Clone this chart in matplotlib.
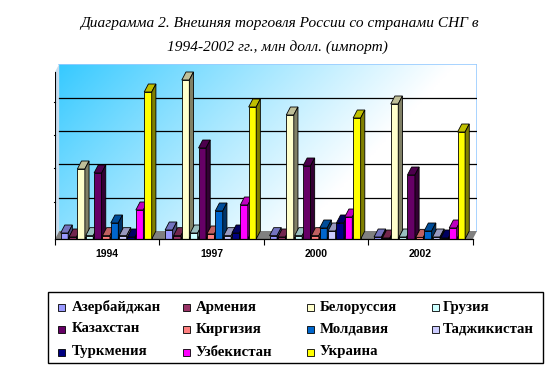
import numpy as np
import matplotlib
matplotlib.use("Agg")
import matplotlib.pyplot as plt
import matplotlib.patches as mpatches
import matplotlib.colors as mcolors

# Data (mln USD)
years = ["1994", "1997", "2000", "2002"]
countries = ["Азербайджан", "Армения", "Белоруссия", "Грузия",
             "Казахстан", "Киргизия", "Молдавия", "Таджикистан",
             "Туркмения", "Узбекистан", "Украина"]
azerbaijan = [180, 270, 100, 60]
armenia = [60, 100, 60, 30]
belarus = [2100, 4770, 3720, 4050]
georgia = [100, 180, 100, 60]
kazakhstan = [1980, 2730, 2190, 1920]
kyrgyzstan = [100, 150, 100, 50]
moldova = [480, 840, 330, 240]
tajikistan = [100, 100, 240, 60]
turkmenistan = [60, 180, 480, 30]
uzbekistan = [870, 1020, 660, 330]
ukraine = [4410, 3960, 3630, 3210]
series = [azerbaijan, armenia, belarus, georgia, kazakhstan, kyrgyzstan,
          moldova, tajikistan, turkmenistan, uzbekistan, ukraine]
colors = ["#9999FF", "#993366", "#FFFFCC", "#CCFFFF", "#660066", "#FF8080",
          "#0066CC", "#CCCCFF", "#000080", "#FF00FF", "#FFFF00"]

W, H = 552, 373
fig = plt.figure(figsize=(W / 100, H / 100), dpi=100)

# axes placed in pixel terms
left, right, top, bottom = 55, 477, 64, 239
ax = fig.add_axes([left / W, 1 - bottom / H, (right - left) / W, (bottom - top) / H])
dx = 0.04      # 3d depth offset in x units
dy = 240       # 3d depth offset in value units
ax.set_xlim(0, 4 + dx)
ax.set_ylim(0, 5250)
for s in ax.spines.values():
    s.set_visible(False)
ax.set_yticks([])

# back wall gradient
gx = np.linspace(0, 1, 200)
gy = np.linspace(0, 1, 100)
XX, YY = np.meshgrid(gx, gy)
t = np.clip(0.1 + 0.95 * XX + 0.35 * YY, 0, 1) ** 0.9
base = np.array([0.10, 0.76, 1.0])
img = base[None, None, :] * (1 - t[..., None]) + np.array([1.0, 1.0, 1.0]) * t[..., None]
ax.imshow(img, extent=[dx, 4 + dx, dy, 5250], origin="upper", aspect="auto", zorder=0)
ax.plot([dx, 4 + dx, 4 + dx], [5250, 5250, dy], color="#99CCFF", lw=1.2, zorder=1)

# left side wall
ax.add_patch(mpatches.Polygon([(0, 0), (dx, dy), (dx, 5250), (0, 5250 - dy)],
                              closed=True, facecolor="#C8DCEC", edgecolor="none", zorder=1))
ax.plot([0, 0], [0, 5250 - dy], color="black", lw=0.8, zorder=2)

# floor
ax.add_patch(mpatches.Polygon([(0, 0), (4, 0), (4 + dx, dy), (dx, dy)],
                              closed=True, facecolor="#808080", edgecolor="none", zorder=1))

# gridlines
for k in range(1, 5):
    ax.plot([dx, 4 + dx], [dy + k * 1000] * 2, color="black", lw=0.9, zorder=1)
    ax.plot([-0.012, 0], [k * 1000 + dy / 2] * 2, color="black", lw=0.8, zorder=2, clip_on=False)

# bars with pseudo-3d faces
pitch = 0.08
bw = 0.072
z = 3
for g in range(len(years)):
    for i, (vals, c) in enumerate(zip(series, colors)):
        v = vals[g]
        x0 = g + 0.49 + (i - 5) * pitch - bw / 2
        x1 = x0 + bw
        rgb = np.array(mcolors.to_rgb(c))
        ax.bar(x0, v, width=bw, align="edge", color=c, edgecolor="black", lw=0.6, zorder=z)
        ax.add_patch(mpatches.Polygon([(x0, v), (x1, v), (x1 + dx, v + dy), (x0 + dx, v + dy)],
                                      closed=True, facecolor=rgb * 0.75, edgecolor="black",
                                      lw=0.6, zorder=z))
        ax.add_patch(mpatches.Polygon([(x1, 0), (x1 + dx, dy), (x1 + dx, v + dy), (x1, v)],
                                      closed=True, facecolor=rgb * 0.5, edgecolor="black",
                                      lw=0.6, zorder=z))
        z += 0.01

# x axis
ax.plot([0, 4], [0, 0], color="black", lw=0.9, zorder=10, clip_on=False)
ax.set_xticks(range(5))
ax.set_xticklabels([])
ax.tick_params(axis="x", which="major", length=4, width=0.8, direction="out")
ax.set_xticks([g + 0.5 for g in range(4)], minor=True)
ax.set_xticklabels(years, minor=True, fontsize=7.5, fontweight="bold",
                   family=["Liberation Sans", "DejaVu Sans"])
ax.tick_params(axis="x", which="minor", length=0, pad=7)

# title
fig.text(279 / W, 1 - 23 / H, "Диаграмма 2. Внешняя торговля России со странами СНГ в",
         ha="center", va="center", fontsize=11.1, style="italic",
         family=["Liberation Serif", "DejaVu Serif"])
fig.text(277 / W, 1 - 47 / H, "1994-2002 гг., млн долл. (импорт)",
         ha="center", va="center", fontsize=11.1, style="italic",
         family=["Liberation Serif", "DejaVu Serif"])

# legend box
lx0, ly0, lx1, ly1 = 48, 292, 543, 363
fig.add_artist(mpatches.Rectangle((lx0 / W, 1 - ly1 / H), (lx1 - lx0) / W, (ly1 - ly0) / H,
                                  transform=fig.transFigure, facecolor="white",
                                  edgecolor="black", lw=1.0))
mark_x = [58, 183, 307, 432]
text_x = [72, 196, 320, 443]
row_y = [307, 329, 352]
for i, (name, c) in enumerate(zip(countries, colors)):
    r, col = divmod(i, 4)
    my = row_y[r]
    fig.add_artist(mpatches.Rectangle((mark_x[col] / W, 1 - (my + 3.5) / H), 7 / W, 7 / H,
                                      transform=fig.transFigure, facecolor=c,
                                      edgecolor="black", lw=0.6))
    fig.text(text_x[col] / W, 1 - my / H, name, ha="left", va="center", fontsize=10.7,
             fontweight="bold", family=["Liberation Serif", "DejaVu Serif"])

fig.savefig("out.png", dpi=100)
